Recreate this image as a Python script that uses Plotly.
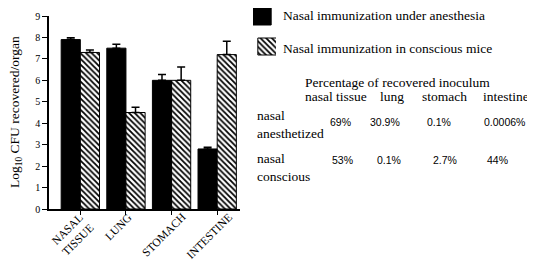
import plotly.graph_objects as go

# ---- data ----
organs = ["NASAL<br>TISSUE", "LUNG", "STOMACH", "INTESTINE"]
anesth = [7.9, 7.5, 6.0, 2.8]
anesth_err = [0.08, 0.18, 0.27, 0.08]
conscious = [7.3, 4.5, 6.0, 7.2]
conscious_err = [0.12, 0.25, 0.62, 0.62]

series_names = ["Nasal immunization under anesthesia", "Nasal immunization in conscious mice"]
table_title = "Percentage of recovered inoculum"
table_cols = ["nasal tissue", "lung", "stomach", "intestine"]
row_labels = ["nasal<br>anesthetized", "nasal<br>conscious"]
pct_anesth = ["69%", "30.9%", "0.1%", "0.0006%"]
pct_conscious = ["53%", "0.1%", "2.7%", "44%"]
y_ticks = list(range(0, 10))

# the page body has an 8px margin, so the figure is offset by 8px
OFF = 8
W, H = 535 - OFF, 264 - OFF
SERIF = "Liberation Serif, Times New Roman, serif"
SANS = "Liberation Sans, Arial, sans-serif"

def px(x):
    return (x - OFF) / W

def py(y):
    return 1 - (y - OFF) / H

hatch = dict(shape="\\", size=4, solidity=0.45, fgcolor="black", bgcolor="white", fillmode="replace")

fig = go.Figure()
fig.add_trace(go.Bar(
    x=organs, y=anesth, name=series_names[0],
    marker=dict(color="black", line=dict(color="black", width=1)),
    error_y=dict(type="data", array=anesth_err, arrayminus=[0] * 4, symmetric=False,
                 color="black", thickness=1.5, width=4),
))
fig.add_trace(go.Bar(
    x=organs, y=conscious, name=series_names[1],
    marker=dict(color="white", pattern=hatch, line=dict(color="black", width=1)),
    error_y=dict(type="data", array=conscious_err, arrayminus=[0] * 4, symmetric=False,
                 color="black", thickness=1.5, width=4),
))

# legend swatches on a helper axis
fig.add_trace(go.Bar(x=[0], y=[21], base=[4], width=[1], xaxis="x2", yaxis="y2",
                     marker=dict(color="black", line=dict(color="black", width=1)),
                     showlegend=False, hoverinfo="skip"))
fig.add_trace(go.Bar(x=[0], y=[17], base=[38], width=[1], xaxis="x2", yaxis="y2",
                     marker=dict(color="white", pattern=hatch, line=dict(color="black", width=1)),
                     showlegend=False, hoverinfo="skip"))

ann = []
def text(x, y, s, font, size=13.5, **kw):
    d = dict(x=px(x), y=py(y), xref="paper", yref="paper", text=s, xanchor="left",
             yanchor="middle", showarrow=False, borderpad=0, borderwidth=0,
             font=dict(family=font, size=size, color="black"))
    d.update(kw)
    ann.append(d)

# legend texts
for name, yc in zip(series_names, [15, 48]):
    text(283, yc, name, SERIF)
# table
text(305, 82, table_title, SERIF)
for col, xl in zip(table_cols, [305, 380, 422, 483]):
    text(xl, 96, col, SERIF)
for lab, yc in zip(row_labels, [124, 167]):
    text(257, yc, lab, SERIF, align="left")
for vals, xs, yc in [(pct_anesth, [330, 370, 427, 484], 122), (pct_conscious, [332, 377, 433, 487], 160)]:
    for v, xl in zip(vals, xs):
        text(xl, yc, v, SANS, size=10.5)
# y-axis title
text(15, 112, "Log<sub>10</sub> CFU recovered/organ", SERIF, textangle=-90, xanchor="center")

# rotated category labels (centred under each tick)
for org in organs:
    ann.append(dict(x=org, xref="x", y=py(211), yref="paper", text=org, textangle=-45,
                    xanchor="center", yanchor="top", xshift=-8, showarrow=False,
                    borderpad=0, borderwidth=0,
                    font=dict(family=SERIF, size=11.5, color="black")))

fig.update_layout(
    width=W, height=H,
    margin=dict(l=0, r=0, t=0, b=0),
    paper_bgcolor="white", plot_bgcolor="white",
    showlegend=False,
    barmode="group", bargap=0.16, bargroupgap=0,
    annotations=ann,
    xaxis=dict(domain=[px(49), px(240)], showline=True, linecolor="black", linewidth=1.5,
               ticks="outside", ticklen=4, tickcolor="black", showticklabels=False,
               showgrid=False, automargin=False, fixedrange=True),
    yaxis=dict(domain=[py(209), py(16)], range=[0, 9], tickvals=y_ticks,
               showline=True, linecolor="black", linewidth=1.5, ticks="outside", ticklen=5,
               tickcolor="black", tickfont=dict(family=SERIF, size=10, color="black"),
               showgrid=False, zeroline=False, automargin=False, fixedrange=True),
    xaxis2=dict(domain=[px(253), px(276)], range=[-0.5, 0.5], visible=False, anchor="y2",
                fixedrange=True),
    yaxis2=dict(domain=[py(60), py(OFF)], range=[60, OFF], visible=False, anchor="x2",
                fixedrange=True),
)

fig.write_html("out.html")
